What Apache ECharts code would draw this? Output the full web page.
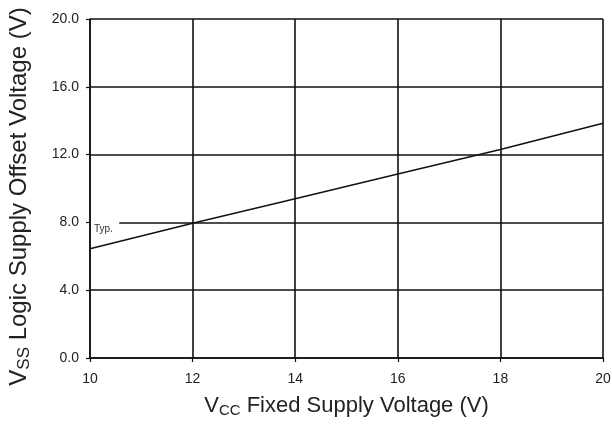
<!DOCTYPE html>
<html>
<head>
<meta charset="utf-8">
<script src="https://cdn.jsdelivr.net/npm/echarts@6/dist/echarts.min.js"></script>
<style>
  html, body { margin: 0; padding: 0; background: #fff; }
  #chart { width: 612px; height: 428px; }
</style>
</head>
<body>
<div id="chart"></div>
<script>
// VCC fixed supply voltage (V) vs VSS logic supply offset voltage (V), typical
const vccValues = [10, 12, 14, 16, 18, 20];
const vssTyp = [6.45, 7.95, 9.4, 10.85, 12.3, 13.85];
const typLabel = 'Typ.';
const typLevel = 8.0;
const typLineStart = 10.57;

const lineData = vccValues.map((x, i) => [x, vssTyp[i]]);

function nameRich(size) {
  return {
    n: { fontFamily: 'Liberation Sans', fontSize: size, color: '#222' },
    s: { fontFamily: 'Liberation Sans', fontSize: Math.round(size * 0.7), color: '#222', verticalAlign: 'bottom', padding: [Math.round(size * 0.4), 0, 0, 0] }
  };
}

const option = {
  animation: false,
  backgroundColor: '#fff',
  grid: { left: 90, right: 9, top: 19, bottom: 70, outerBoundsMode: 'none', containLabel: false },
  xAxis: {
    type: 'value',
    min: 10,
    max: 20,
    interval: 2,
    name: '{n|V}{s|CC}{n| Fixed Supply Voltage (V)}',
    nameLocation: 'middle',
    nameGap: 36,
    nameTextStyle: { rich: nameRich(22) },
    axisLine: { show: true, onZero: false, lineStyle: { color: '#111', width: 1.5 } },
    axisTick: { show: true, length: 4, lineStyle: { color: '#111', width: 1.2 } },
    axisLabel: { color: '#222', fontFamily: 'Liberation Sans', fontSize: 14, margin: 14 },
    splitLine: { show: true, lineStyle: { color: '#111', width: 1.6 } }
  },
  yAxis: {
    type: 'value',
    min: 0,
    max: 20,
    interval: 4,
    name: '{n|V}{s|SS}{n| Logic Supply Offset Voltage (V)}',
    nameLocation: 'middle',
    nameGap: 57,
    nameTextStyle: { rich: nameRich(24), padding: [0, 16, 0, 0] },
    axisLine: { show: true, lineStyle: { color: '#111', width: 1.5 } },
    axisTick: { show: true, length: 4, lineStyle: { color: '#111', width: 1.2 } },
    axisLabel: {
      color: '#222', fontFamily: 'Liberation Sans', fontSize: 14, margin: 11,
      formatter: v => v.toFixed(1)
    },
    splitLine: {
      show: true,
      // the 8.0 grid line is broken on the left for the "Typ." note
      lineStyle: { color: ['#111', '#111', 'transparent', '#111', '#111', '#111'], width: 1.6 }
    }
  },
  series: [
    {
      type: 'line',
      data: lineData,
      showSymbol: false,
      lineStyle: { color: '#111', width: 1.5 },
      markLine: {
        silent: true,
        symbol: 'none',
        label: { show: false },
        lineStyle: { color: '#111', width: 1.6, type: 'solid' },
        data: [[{ coord: [typLineStart, typLevel] }, { coord: [20, typLevel] }]]
      },
      markPoint: {
        silent: true,
        symbol: 'rect',
        symbolSize: 0,
        itemStyle: { color: 'transparent' },
        data: [{ coord: [10, typLevel] }],
        label: {
          show: true,
          formatter: typLabel,
          position: 'inside',
          align: 'left',
          verticalAlign: 'top',
          offset: [4, 2],
          color: '#333',
          fontFamily: 'Liberation Sans',
          fontSize: 10
        }
      }
    }
  ]
};

const myChart = echarts.init(document.getElementById('chart'));
myChart.setOption(option);
</script>
</body>
</html>
